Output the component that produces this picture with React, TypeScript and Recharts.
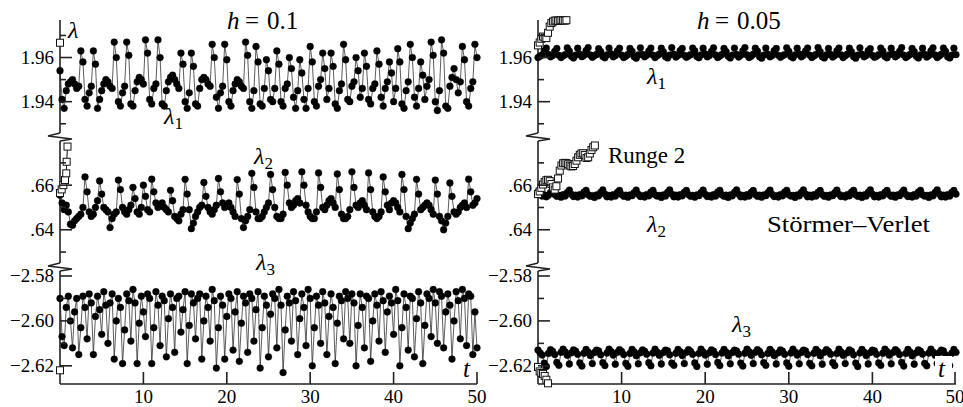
import React from "react";
import { LineChart, Line, XAxis, YAxis } from "recharts";

const SERIF = "'Liberation Serif', serif";

// axis ticks
const xTicks = [10, 20, 30, 40, 50];
const topTicks = [1.93, 1.94, 1.95, 1.96, 1.97];
const topLabels = [1.94, 1.96];
const midTicks = [0.63, 0.64, 0.65, 0.66, 0.67];
const midLabels = [0.64, 0.66];
const lowTicks = [-2.62, -2.61, -2.6, -2.59, -2.58];
const lowLabels = [-2.62, -2.6, -2.58];

const topDomain = [1.924, 1.977];
const midDomain = [0.6233, 0.6816];
const lowDomain = [-2.6281, -2.576];

// h = 0.1, read every 0.25 in t
const lambda1Coarse = [
  1.954, 1.941, 1.937, 1.945, 1.948, 1.949, 1.95, 1.948, 1.946, 1.947,
  1.963, 1.958, 1.941, 1.938, 1.944, 1.947, 1.963, 1.957, 1.937, 1.941,
  1.945, 1.948, 1.95, 1.949, 1.947, 1.946, 1.967, 1.96, 1.94, 1.938,
  1.944, 1.947, 1.967, 1.961, 1.939, 1.938, 1.945, 1.949, 1.951, 1.95,
  1.948, 1.968, 1.962, 1.941, 1.939, 1.946, 1.948, 1.968, 1.96, 1.939,
  1.938, 1.945, 1.949, 1.951, 1.952, 1.95, 1.948, 1.946, 1.962, 1.957,
  1.94, 1.937, 1.944, 1.962, 1.956, 1.939, 1.938, 1.946, 1.95, 1.951,
  1.95, 1.948, 1.947, 1.966, 1.96, 1.942, 1.937, 1.944, 1.947, 1.966,
  1.959, 1.94, 1.938, 1.945, 1.948, 1.95, 1.949, 1.947, 1.946, 1.967,
  1.961, 1.94, 1.937, 1.945, 1.965, 1.958, 1.939, 1.938, 1.946, 1.959,
  1.954, 1.941, 1.94, 1.946, 1.963, 1.957, 1.94, 1.938, 1.946, 1.948,
  1.96, 1.955, 1.942, 1.937, 1.945, 1.959, 1.953, 1.941, 1.937, 1.946,
  1.965, 1.958, 1.94, 1.938, 1.947, 1.95, 1.962, 1.955, 1.941, 1.946,
  1.962, 1.956, 1.939, 1.937, 1.945, 1.948, 1.966, 1.959, 1.941, 1.94,
  1.947, 1.949, 1.96, 1.954, 1.942, 1.946, 1.962, 1.956, 1.941, 1.939,
  1.946, 1.948, 1.963, 1.957, 1.942, 1.938, 1.946, 1.949, 1.958, 1.953,
  1.94, 1.946, 1.964, 1.958, 1.939, 1.937, 1.945, 1.949, 1.966, 1.96,
  1.942, 1.938, 1.946, 1.958, 1.952, 1.941, 1.947, 1.95, 1.967, 1.961,
  1.94, 1.936, 1.945, 1.968, 1.962, 1.938, 1.937, 1.947, 1.951, 1.955,
  1.95, 1.944, 1.949, 1.965, 1.959, 1.94, 1.938, 1.946, 1.949, 1.966,
  1.96,
];

const lambda2Coarse = [
  0.6555, 0.652, 0.649, 0.651, 0.648, 0.6425, 0.642, 0.644, 0.645, 0.646,
  0.647, 0.65, 0.6637, 0.657, 0.648, 0.646, 0.647, 0.65, 0.653, 0.6619,
  0.656, 0.65, 0.649, 0.648, 0.641, 0.645, 0.647, 0.648, 0.6623, 0.658,
  0.65, 0.648, 0.647, 0.649, 0.651, 0.659, 0.654, 0.648, 0.647, 0.65,
  0.66, 0.655, 0.649, 0.648, 0.6627, 0.657, 0.652, 0.65, 0.651, 0.652,
  0.65, 0.649, 0.648, 0.6577, 0.653, 0.646, 0.645, 0.644, 0.647, 0.649,
  0.6626, 0.656, 0.649, 0.6405, 0.643, 0.646, 0.648, 0.65, 0.651, 0.6612,
  0.655, 0.65, 0.648, 0.647, 0.649, 0.651, 0.663, 0.657, 0.652, 0.65,
  0.651, 0.652, 0.65, 0.648, 0.646, 0.6625, 0.656, 0.645, 0.641, 0.644,
  0.646, 0.649, 0.6653, 0.659, 0.648, 0.645, 0.645, 0.646, 0.648, 0.65,
  0.652, 0.6648, 0.658, 0.65, 0.646, 0.645, 0.645, 0.647, 0.6657, 0.66,
  0.652, 0.65, 0.651, 0.653, 0.654, 0.652, 0.666, 0.66, 0.651, 0.648,
  0.646, 0.645, 0.645, 0.648, 0.6655, 0.659, 0.65, 0.649, 0.651, 0.653,
  0.654, 0.652, 0.65, 0.665, 0.658, 0.647, 0.645, 0.645, 0.646, 0.649,
  0.666, 0.659, 0.651, 0.65, 0.652, 0.653, 0.651, 0.649, 0.6655, 0.658,
  0.648, 0.646, 0.645, 0.646, 0.648, 0.6637, 0.657, 0.651, 0.649, 0.652,
  0.653, 0.652, 0.65, 0.648, 0.6648, 0.658, 0.646, 0.6405, 0.643, 0.645,
  0.647, 0.6626, 0.656, 0.649, 0.65, 0.651, 0.652, 0.651, 0.649, 0.647,
  0.6623, 0.656, 0.646, 0.644, 0.64, 0.643, 0.646, 0.661, 0.655, 0.648,
  0.647, 0.648, 0.65, 0.651, 0.652, 0.65, 0.6627, 0.657, 0.651, 0.652,
  0.654,
];

const lambda3Coarse = [
  -2.59, -2.607, -2.611, -2.594, -2.589, -2.6, -2.612, -2.596, -2.59, -2.615,
  -2.603, -2.589, -2.594, -2.608, -2.588, -2.592, -2.615, -2.598, -2.589, -2.595,
  -2.606, -2.587, -2.593, -2.61, -2.592, -2.588, -2.617, -2.6, -2.59, -2.594,
  -2.619, -2.604, -2.588, -2.591, -2.609, -2.586, -2.592, -2.619, -2.601, -2.589,
  -2.596, -2.607, -2.588, -2.59, -2.619, -2.603, -2.587, -2.593, -2.611, -2.589,
  -2.591, -2.616, -2.599, -2.588, -2.594, -2.614, -2.59, -2.589, -2.605, -2.595,
  -2.587, -2.619, -2.602, -2.588, -2.592, -2.608, -2.59, -2.588, -2.617, -2.6,
  -2.589, -2.594, -2.609, -2.586, -2.591, -2.621, -2.603, -2.589, -2.593, -2.617,
  -2.598, -2.588, -2.59, -2.613, -2.596, -2.587, -2.618, -2.601, -2.589, -2.592,
  -2.614, -2.588, -2.59, -2.609, -2.595, -2.587, -2.621, -2.603, -2.589, -2.593,
  -2.616, -2.597, -2.588, -2.59, -2.612, -2.586, -2.593, -2.623, -2.604, -2.589,
  -2.592, -2.609, -2.587, -2.591, -2.615, -2.599, -2.588, -2.594, -2.611, -2.586,
  -2.59, -2.62, -2.603, -2.589, -2.593, -2.61, -2.587, -2.592, -2.615, -2.598,
  -2.588, -2.594, -2.619, -2.601, -2.589, -2.591, -2.608, -2.587, -2.59, -2.61,
  -2.588, -2.592, -2.62, -2.602, -2.588, -2.594, -2.612, -2.589, -2.59, -2.618,
  -2.6, -2.588, -2.593, -2.609, -2.587, -2.591, -2.614, -2.596, -2.589, -2.592,
  -2.606, -2.586, -2.591, -2.62, -2.603, -2.588, -2.594, -2.613, -2.589, -2.59,
  -2.616, -2.599, -2.587, -2.592, -2.619, -2.602, -2.588, -2.59, -2.607, -2.586,
  -2.592, -2.61, -2.587, -2.589, -2.612, -2.596, -2.588, -2.593, -2.617, -2.6,
  -2.587, -2.591, -2.608, -2.586, -2.59, -2.611, -2.588, -2.589, -2.615, -2.596,
  -2.612,
];

// h = 0.05, read every 0.25 in t
const lambda1Fine = [
  1.96, 1.9606, 1.9612, 1.963, 1.9643, 1.9614, 1.9603, 1.9609, 1.9628, 1.9641,
  1.961, 1.96, 1.9607, 1.9613, 1.9644, 1.9629, 1.9606, 1.9598, 1.9611, 1.9642,
  1.9615, 1.9604, 1.961, 1.9631, 1.9645, 1.9612, 1.9601, 1.9608, 1.9614, 1.964,
  1.9627, 1.9605, 1.9599, 1.9612, 1.9643, 1.9616, 1.9603, 1.9609, 1.963, 1.9642,
  1.9611, 1.96, 1.9606, 1.9614, 1.9641, 1.9628, 1.9604, 1.9597, 1.9612, 1.9644,
  1.9614, 1.9603, 1.961, 1.9629, 1.9643, 1.9611, 1.96, 1.9608, 1.9615, 1.9642,
  1.9626, 1.9604, 1.9598, 1.9611, 1.9645, 1.9615, 1.9602, 1.9609, 1.9631, 1.9641,
  1.961, 1.9601, 1.9607, 1.9613, 1.9643, 1.963, 1.9605, 1.9599, 1.9612, 1.9642,
  1.9616, 1.9603, 1.9609, 1.9628, 1.9644, 1.9612, 1.96, 1.9607, 1.9614, 1.9641,
  1.9627, 1.9606, 1.9598, 1.9611, 1.9643, 1.9614, 1.9602, 1.961, 1.963, 1.9645,
  1.9612, 1.96, 1.9606, 1.9615, 1.9642, 1.9629, 1.9604, 1.9597, 1.9611, 1.9643,
  1.9615, 1.9603, 1.9609, 1.9631, 1.9641, 1.961, 1.9601, 1.9608, 1.9613, 1.9644,
  1.9628, 1.9605, 1.9599, 1.9612, 1.9642, 1.9616, 1.9603, 1.961, 1.9629, 1.9643,
  1.9611, 1.96, 1.9607, 1.9614, 1.9645, 1.9627, 1.9604, 1.9598, 1.9612, 1.9641,
  1.9614, 1.9602, 1.9609, 1.963, 1.9643, 1.9612, 1.96, 1.9608, 1.9615, 1.9642,
  1.9626, 1.9604, 1.9597, 1.9611, 1.9644, 1.9615, 1.9603, 1.9609, 1.9631, 1.964,
  1.961, 1.9601, 1.9606, 1.9613, 1.9643, 1.9629, 1.9605, 1.9599, 1.9612, 1.9642,
  1.9616, 1.9603, 1.961, 1.9628, 1.9645, 1.9611, 1.96, 1.9607, 1.9614, 1.9641,
  1.9627, 1.9606, 1.9598, 1.9612, 1.9642, 1.9614, 1.9602, 1.9609, 1.963, 1.9644,
  1.9612, 1.96, 1.9607, 1.9615, 1.9643, 1.9628, 1.9604, 1.9598, 1.9611, 1.9642,
  1.9613,
];

const lambda2Fine = [
  0.657, 0.656, 0.6551, 0.6556, 0.6548, 0.6555, 0.6567, 0.6576, 0.6558, 0.655,
  0.6554, 0.6546, 0.6557, 0.6551, 0.6566, 0.6578, 0.6559, 0.6549, 0.6555, 0.6547,
  0.6558, 0.6552, 0.6569, 0.6577, 0.6557, 0.655, 0.6553, 0.6545, 0.6556, 0.6552,
  0.6567, 0.6579, 0.656, 0.6548, 0.6554, 0.6547, 0.6557, 0.6551, 0.6568, 0.6576,
  0.6558, 0.655, 0.6555, 0.6546, 0.6556, 0.6553, 0.6566, 0.6578, 0.6559, 0.6549,
  0.6553, 0.6547, 0.6558, 0.6552, 0.6569, 0.6577, 0.6557, 0.6551, 0.6554, 0.6545,
  0.6556, 0.6551, 0.6567, 0.6579, 0.656, 0.6548, 0.6555, 0.6547, 0.6557, 0.6552,
  0.6568, 0.6576, 0.6558, 0.655, 0.6554, 0.6546, 0.6556, 0.6553, 0.6566, 0.6578,
  0.6559, 0.6549, 0.6553, 0.6547, 0.6558, 0.6551, 0.6569, 0.6577, 0.6557, 0.655,
  0.6555, 0.6545, 0.6556, 0.6552, 0.6567, 0.6579, 0.656, 0.6548, 0.6554, 0.6547,
  0.6557, 0.6551, 0.6568, 0.6576, 0.6558, 0.655, 0.6555, 0.6546, 0.6556, 0.6553,
  0.6566, 0.6578, 0.6559, 0.6549, 0.6553, 0.6547, 0.6558, 0.6552, 0.6569, 0.6577,
  0.6557, 0.6551, 0.6554, 0.6545, 0.6556, 0.6552, 0.6567, 0.6579, 0.656, 0.6548,
  0.6555, 0.6547, 0.6557, 0.6551, 0.6568, 0.6576, 0.6558, 0.655, 0.6554, 0.6546,
  0.6556, 0.6553, 0.6566, 0.6578, 0.6559, 0.6549, 0.6553, 0.6547, 0.6558, 0.6552,
  0.6569, 0.6577, 0.6557, 0.655, 0.6555, 0.6545, 0.6556, 0.6551, 0.6567, 0.6579,
  0.656, 0.6548, 0.6554, 0.6547, 0.6557, 0.6552, 0.6568, 0.6576, 0.6558, 0.655,
  0.6555, 0.6546, 0.6556, 0.6553, 0.6566, 0.6578, 0.6559, 0.6549, 0.6553, 0.6547,
  0.6558, 0.6551, 0.6569, 0.6577, 0.6557, 0.6551, 0.6554, 0.6545, 0.6556, 0.6552,
  0.6567, 0.6579, 0.656, 0.6548, 0.6555, 0.6547, 0.6557, 0.6551, 0.6568, 0.6576,
  0.656,
];

const lambda3Fine = [
  -2.613, -2.6142, -2.6152, -2.6188, -2.6203, -2.6145, -2.6128, -2.6136, -2.615, -2.6185,
  -2.6198, -2.614, -2.6126, -2.6138, -2.6153, -2.6192, -2.6142, -2.6129, -2.6135, -2.6149,
  -2.6187, -2.6201, -2.6144, -2.6127, -2.6139, -2.6154, -2.619, -2.6141, -2.613, -2.6134,
  -2.6151, -2.6186, -2.6199, -2.6143, -2.6126, -2.6137, -2.6152, -2.6193, -2.614, -2.6128,
  -2.6136, -2.615, -2.6189, -2.6202, -2.6145, -2.6127, -2.6138, -2.6155, -2.6191, -2.6142,
  -2.6129, -2.6135, -2.6148, -2.6186, -2.62, -2.6143, -2.6126, -2.6139, -2.6153, -2.6192,
  -2.6141, -2.613, -2.6134, -2.6151, -2.6188, -2.6198, -2.6144, -2.6127, -2.6137, -2.6154,
  -2.619, -2.614, -2.6128, -2.6136, -2.6149, -2.6187, -2.6203, -2.6145, -2.6126, -2.6138,
  -2.6152, -2.6193, -2.6142, -2.6129, -2.6135, -2.615, -2.6185, -2.6199, -2.6143, -2.6127,
  -2.6139, -2.6155, -2.6191, -2.6141, -2.613, -2.6134, -2.6148, -2.6188, -2.6201, -2.6144,
  -2.6126, -2.6137, -2.6153, -2.619, -2.614, -2.6128, -2.6136, -2.6151, -2.6186, -2.6198,
  -2.6145, -2.6127, -2.6138, -2.6154, -2.6192, -2.6142, -2.6129, -2.6135, -2.6149, -2.6187,
  -2.6202, -2.6143, -2.6126, -2.6139, -2.6152, -2.6191, -2.6141, -2.613, -2.6134, -2.615,
  -2.6189, -2.62, -2.6144, -2.6127, -2.6137, -2.6155, -2.6193, -2.614, -2.6128, -2.6136,
  -2.6148, -2.6186, -2.6199, -2.6145, -2.6126, -2.6138, -2.6153, -2.619, -2.6142, -2.6129,
  -2.6135, -2.6151, -2.6188, -2.6203, -2.6143, -2.6127, -2.6139, -2.6154, -2.6192, -2.6141,
  -2.613, -2.6134, -2.6149, -2.6187, -2.6198, -2.6144, -2.6126, -2.6137, -2.6152, -2.6191,
  -2.614, -2.6128, -2.6136, -2.615, -2.6185, -2.6201, -2.6145, -2.6127, -2.6138, -2.6155,
  -2.6193, -2.6142, -2.6129, -2.6135, -2.6148, -2.6189, -2.62, -2.6143, -2.6126, -2.6139,
  -2.6153, -2.619, -2.6141, -2.613, -2.6134, -2.6151, -2.6186, -2.6199, -2.6144, -2.6127,
  -2.614,
];

// Runge 2 (diverges, only the start is visible)
const rungeCoarseT1 = [0];
const rungeCoarse1 = [1.9667];
const rungeCoarseT2 = [0, 0.2, 0.4, 0.6, 0.75, 0.8, 0.9];
const rungeCoarse2 = [0.6565, 0.6581, 0.66, 0.6623, 0.6653, 0.6705, 0.6773];
const rungeCoarseT3 = [0];
const rungeCoarse3 = [-2.622];

const rungeFineT1 = [0, 0.2, 0.4, 0.6, 0.8, 1.0, 1.2, 1.4, 1.6, 1.8, 2.0, 2.2, 2.4, 2.6, 2.8, 3.0, 3.2, 3.4];
const rungeFine1 = [
  1.9655, 1.9668, 1.9685, 1.9695, 1.969, 1.9688, 1.9712, 1.974, 1.9756, 1.9763,
  1.9767, 1.9768, 1.9766, 1.9768, 1.9769, 1.9768, 1.9767, 1.9769,
];
const rungeFineT2 = [
  0, 0.2, 0.4, 0.6, 0.8, 1.0, 1.2, 1.4, 1.6, 1.8, 2.0, 2.2, 2.4, 2.6, 2.8, 3.0, 3.2, 3.4,
  3.6, 3.8, 4.0, 4.2, 4.4, 4.6, 4.8, 5.0, 5.2, 5.4, 5.6, 5.8, 6.0, 6.2, 6.4, 6.6, 6.8,
];
const rungeFine2 = [
  0.656, 0.6572, 0.6588, 0.6603, 0.6614, 0.6622, 0.6624, 0.6618, 0.6605, 0.659,
  0.658, 0.6595, 0.663, 0.6665, 0.6688, 0.6698, 0.67, 0.6699, 0.6694, 0.6688,
  0.6684, 0.6686, 0.6695, 0.671, 0.6725, 0.6736, 0.6742, 0.6743, 0.6735, 0.6722,
  0.6725, 0.6742, 0.6758, 0.677, 0.6778,
];
const rungeFineT3 = [0, 0.2, 0.4, 0.6, 0.8, 1.0, 1.2];
const rungeFine3 = [-2.6205, -2.6225, -2.6232, -2.6236, -2.6245, -2.6262, -2.6278];

const stepRows = (step: number, vals: number[]) => vals.map((v, i) => ({ t: i * step, v }));
const pairRows = (ts: number[], vals: number[]) => vals.map((v, i) => ({ t: ts[i], v }));

const fmtPlain = (v: number) => v.toFixed(2);
const fmtNoZero = (v: number) => v.toFixed(2).replace(/^0/, "");
const fmtMinus = (v: number) => v.toFixed(2).replace("-", "\u2212");

const AXIS = "#222";
const textStyle = { fontFamily: SERIF };

function makeYTick(labels: number[], fmt: (v: number) => string) {
  return (props: any) => {
    const { x, y, payload } = props;
    const v = payload.value;
    const major = labels.some((l) => Math.abs(l - v) < 1e-6);
    return (
      <g>
        <line x1={x} x2={x + (major ? 12 : 6)} y1={y} y2={y} stroke={AXIS} strokeWidth={1.6} />
        {major && (
          <text x={x - 6} y={y} dy="0.34em" textAnchor="end" fontFamily={SERIF} style={textStyle} fontSize={19} fill="#000">
            {fmt(v)}
          </text>
        )}
      </g>
    );
  };
}

const XTick = (props: any) => {
  const { x, y, payload } = props;
  return (
    <g>
      <line x1={x} x2={x} y1={y} y2={y - 12} stroke={AXIS} strokeWidth={1.6} />
      <text x={x} y={y + 19} textAnchor="middle" fontFamily={SERIF} style={textStyle} fontSize={19} fill="#000">
        {payload.value}
      </text>
    </g>
  );
};

const SquareDot = (props: any) => {
  const { cx, cy, index } = props;
  if (cx == null || cy == null) return <g key={`s${index}`} />;
  return <rect key={`s${index}`} x={cx - 3.5} y={cy - 3.5} width={7} height={7} fill="#fff" stroke="#111" strokeWidth={1} />;
};

const roundDot = { r: 3.4, fill: "#000", stroke: "#000", strokeWidth: 0.4 };

type Seg = {
  top: number;
  plotH: number;
  domain: number[];
  ticks: number[];
  labels: number[];
  fmt: (v: number) => string;
  main: { t: number; v: number }[];
  runge: { t: number; v: number }[];
  showX: boolean;
};

function Segment({ seg, left, width, rightMargin }: { seg: Seg; left: number; width: number; rightMargin: number }) {
  const pad = 8;
  const xH = seg.showX ? 23 : 0;
  const height = pad + seg.plotH + (seg.showX ? xH : pad);
  return (
    <div style={{ position: "absolute", left, top: seg.top - pad, width, height }}>
      <LineChart
        width={width}
        height={height}
        margin={{ top: pad, right: rightMargin, bottom: seg.showX ? 0 : pad, left: 0 }}
      >
        <XAxis
          type="number"
          dataKey="t"
          domain={[0, 50]}
          ticks={xTicks}
          hide={!seg.showX}
          height={xH}
          tickSize={0}
          tickMargin={0}
          tickLine={false}
          tick={<XTick />}
          axisLine={{ stroke: AXIS, strokeWidth: 1.6 }}
        />
        <YAxis
          type="number"
          dataKey="v"
          domain={seg.domain}
          ticks={seg.ticks}
          width={60}
          tickSize={0}
          tickMargin={0}
          tickLine={false}
          tick={makeYTick(seg.labels, seg.fmt)}
          axisLine={{ stroke: AXIS, strokeWidth: 1.6 }}
          interval={0}
        />
        <Line data={seg.main} dataKey="v" stroke="#333" strokeWidth={0.8} dot={roundDot} isAnimationActive={false} />
        <Line data={seg.runge} dataKey="v" stroke="#111" strokeWidth={1} dot={SquareDot} isAnimationActive={false} />
      </LineChart>
    </div>
  );
}

function Panel({ left, width, rightMargin, h }: { left: number; width: number; rightMargin: number; h: "coarse" | "fine" }) {
  const coarse = h === "coarse";
  const segs: Seg[] = [
    {
      top: 20,
      plotH: 117,
      domain: topDomain,
      ticks: topTicks,
      labels: topLabels,
      fmt: fmtPlain,
      main: stepRows(0.25, coarse ? lambda1Coarse : lambda1Fine),
      runge: coarse ? pairRows(rungeCoarseT1, rungeCoarse1) : pairRows(rungeFineT1, rungeFine1),
      showX: false,
    },
    {
      top: 137,
      plotH: 130,
      domain: midDomain,
      ticks: midTicks,
      labels: midLabels,
      fmt: fmtNoZero,
      main: stepRows(0.25, coarse ? lambda2Coarse : lambda2Fine),
      runge: coarse ? pairRows(rungeCoarseT2, rungeCoarse2) : pairRows(rungeFineT2, rungeFine2),
      showX: false,
    },
    {
      top: 267,
      plotH: 117,
      domain: lowDomain,
      ticks: lowTicks,
      labels: lowLabels,
      fmt: fmtMinus,
      main: stepRows(0.25, coarse ? lambda3Coarse : lambda3Fine),
      runge: coarse ? pairRows(rungeCoarseT3, rungeCoarse3) : pairRows(rungeFineT3, rungeFine3),
      showX: true,
    },
  ];
  return (
    <>
      {segs.map((s, i) => (
        <Segment key={i} seg={s} left={left} width={width} rightMargin={rightMargin} />
      ))}
    </>
  );
}

const Lam = ({ x, y, sub }: { x: number; y: number; sub?: string }) => (
  <text x={x} y={y} fontFamily={SERIF} style={textStyle} fontSize={24} fill="#000">
    <tspan fontStyle="italic">λ</tspan>
    {sub && (
      <tspan fontSize={17} dy={5}>
        {sub}
      </tspan>
    )}
  </text>
);

const Title = ({ x, value }: { x: number; value: string }) => (
  <g fontSize={25} fill="#000">
    <text x={x} y={29} fontFamily={SERIF} style={textStyle} fontStyle="italic">h</text>
    <text x={x + 18} y={29} fontFamily={SERIF} style={textStyle}>=</text>
    <text x={x + 40} y={29} fontFamily={SERIF} style={textStyle}>{value}</text>
  </g>
);

const Break = ({ x, y }: { x: number; y: number }) => (
  <g>
    <rect x={x - 1} y={y - 4} width={3} height={8} fill="#fff" />
    <path
      d={`M ${x} ${y - 4} L ${x - 12} ${y - 1} L ${x + 12} ${y + 2} L ${x} ${y + 4}`}
      fill="none"
      stroke={AXIS}
      strokeWidth={1.4}
    />
  </g>
);

export default function App() {
  return (
    <div style={{ position: "absolute", left: 0, top: 0, width: 963, height: 407, background: "#fff", overflow: "hidden" }}>
      <Panel left={0} width={490} rightMargin={13} h="coarse" />
      <Panel left={478} width={485} rightMargin={7} h="fine" />
      <svg width={963} height={407} style={{ position: "absolute", left: 0, top: 0, pointerEvents: "none" }}>
        <Break x={60} y={137} />
        <Break x={60} y={267} />
        <Break x={538} y={137} />
        <Break x={538} y={267} />
        <Title x={227} value="0.1" />
        <Title x={697} value="0.05" />
        <Lam x={68} y={38} />
        <Lam x={164} y={124} sub="1" />
        <Lam x={254} y={164} sub="2" />
        <Lam x={256} y={270} sub="3" />
        <Lam x={647} y={84} sub="1" />
        <Lam x={647} y={232} sub="2" />
        <Lam x={732} y={332} sub="3" />
        <text x={608} y={163} fontFamily={SERIF} style={textStyle} fontSize={23} fill="#000">
          Runge 2
        </text>
        <text x={767} y={232} fontFamily={SERIF} style={textStyle} fontSize={23} textLength={163} lengthAdjust="spacingAndGlyphs" fill="#000">
          Störmer–Verlet
        </text>
        <text x={463} y={377} fontFamily={SERIF} style={textStyle} fontSize={25} fontStyle="italic" fill="#000">
          t
        </text>
        <rect x={935} y={356} width={17} height={24} fill="#fff" />
        <text x={938} y={377} fontFamily={SERIF} style={textStyle} fontSize={25} fontStyle="italic" fill="#000">
          t
        </text>
      </svg>
    </div>
  );
}
